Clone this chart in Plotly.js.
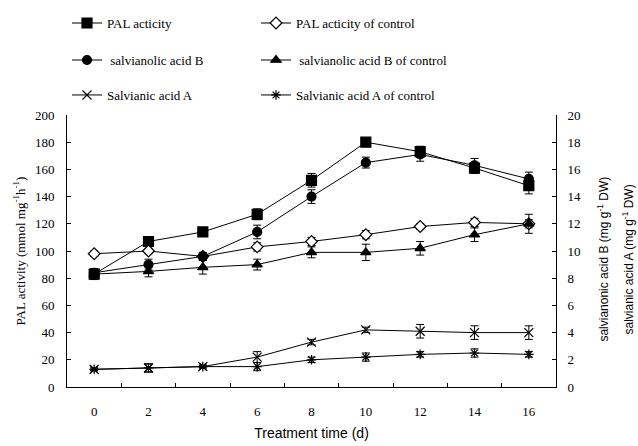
<!DOCTYPE html>
<html><head><meta charset="utf-8">
<script src="https://cdn.plot.ly/plotly-3.0.1.min.js"></script>
<style>html,body{margin:0;padding:0;background:#fff}</style>
</head><body>
<div id="chart" style="width:638px;height:446px"></div>
<script>
const days = ['0','2','4','6','8','10','12','14','16'];
const palActivity = [83,107,114,127,152,180,173,161,148];
const palActivityErr = [4,3,2,4,5,3,4,4,6];
const palControl = [98,100,96,103,107,112,118,121,120];
const palControlErr = [2,2,2,3,3,3,2,3,3];
const salB = [8.4,9.0,9.6,11.4,14.0,16.5,17.1,16.3,15.3];
const salBErr = [0.3,0.4,0.3,0.5,0.5,0.4,0.5,0.5,0.5];
const salBControl = [8.3,8.5,8.8,9.0,9.9,9.9,10.2,11.2,12.0];
const salBControlErr = [0.3,0.4,0.5,0.4,0.4,0.6,0.5,0.5,0.7];
const salA = [1.3,1.4,1.5,2.2,3.3,4.2,4.1,4.0,4.0];
const salAErr = [0.1,0.3,0.1,0.4,0.2,0.2,0.5,0.5,0.5];
const salAControl = [1.3,1.4,1.5,1.5,2.0,2.2,2.4,2.5,2.4];
const salAControlErr = [0.1,0.3,0.1,0.3,0.2,0.3,0.2,0.3,0.2];

function tr(name, y, err, axis, symbol, size, fill, legend) {
  return {
    x: days, y: y, name: name, type: 'scatter', mode: 'lines+markers',
    yaxis: axis, legend: legend,
    line: {color: '#000', width: 1},
    marker: {symbol: symbol, size: size, color: fill, line: {color: '#000', width: 1.2}},
    error_y: {type: 'data', array: err, visible: true, color: '#000', thickness: 1, width: 4}
  };
}
const data = [
  tr('PAL acticity', palActivity, palActivityErr, 'y', 'square', 10, '#000', 'legend'),
  tr('PAL acticity of control', palControl, palControlErr, 'y', 'diamond', 9, '#fff', 'legend2'),
  tr(' salvianolic acid B', salB, salBErr, 'y2', 'circle', 9, '#000', 'legend3'),
  tr(' salvianolic acid B of control', salBControl, salBControlErr, 'y2', 'triangle-up', 9, '#000', 'legend4'),
  tr('Salvianic acid A', salA, salAErr, 'y2', 'x-thin-open', 9, '#000', 'legend5'),
  tr('Salvianic acid A of control', salAControl, salAControlErr, 'y2', 'asterisk-open', 8, '#000', 'legend6')
];
const serif = 'Liberation Serif, Times New Roman, serif';
const sans = 'Liberation Sans, Arial, sans-serif';
const legBase = {orientation: 'h', xanchor: 'left', yanchor: 'middle',
  font: {family: serif, size: 13, color: '#000'}, bgcolor: 'rgba(0,0,0,0)', itemwidth: 30};
const col1 = 0.0, col2 = 0.3865;
const row1 = 1.338, row2 = 1.202, row3 = 1.0735;
const L = (x, y) => Object.assign({}, legBase, {x: x, y: y});
const layout = {
  width: 638, height: 446,
  margin: {l: 67, r: 82, t: 115, b: 59, autoexpand: false},
  paper_bgcolor: '#fff', plot_bgcolor: '#fff',
  showlegend: true,
  legend: L(col1, row1), legend2: L(col2, row1),
  legend3: L(col1, row2), legend4: L(col2, row2),
  legend5: L(col1, row3), legend6: L(col2, row3),
  xaxis: {
    type: 'category', tickson: 'boundaries', ticks: 'inside', ticklen: 4, tickcolor: '#000',
    ticklabelstandoff: 12,
    showline: true, linecolor: '#000', linewidth: 1, showgrid: false, zeroline: false,
    range: [-0.5, 8.5],
    tickfont: {family: serif, size: 13, color: '#000'},
    title: {text: 'Treatment time (d)', font: {family: sans, size: 14, color: '#000'}, standoff: 10}
  },
  yaxis: {
    range: [0, 200], dtick: 20, ticks: 'inside', ticklen: 4, tickcolor: '#000',
    ticklabelstandoff: 9,
    showline: true, linecolor: '#000', linewidth: 1, showgrid: false, zeroline: false,
    tickfont: {family: serif, size: 13, color: '#000'},
    title: {text: 'PAL activity (mmol mg<sup>-1</sup>h<sup>-1</sup>)', font: {family: serif, size: 13, color: '#000'}, standoff: 6}
  },
  yaxis2: {
    overlaying: 'y', side: 'right', range: [0, 20], dtick: 2, ticks: 'inside', ticklen: 4, tickcolor: '#000',
    ticklabelstandoff: 8,
    showline: true, linecolor: '#000', linewidth: 1, showgrid: false, zeroline: false,
    tickfont: {family: serif, size: 13, color: '#000'}
  },
  annotations: [
    {xref: 'paper', yref: 'paper', x: 1.097, y: 0.47, textangle: -90, showarrow: false, xanchor: 'center', yanchor: 'middle',
     text: 'salvianonic acid B (mg g<sup>-1</sup> DW)', font: {family: sans, size: 12, color: '#000'}},
    {xref: 'paper', yref: 'paper', x: 1.148, y: 0.47, textangle: -90, showarrow: false, xanchor: 'center', yanchor: 'middle',
     text: 'salvianic acid A (mg g<sup>-1</sup> DW)', font: {family: sans, size: 12, color: '#000'}}
  ]
};
Plotly.newPlot('chart', data, layout, {displayModeBar: false, staticPlot: true});
</script>
</body></html>
